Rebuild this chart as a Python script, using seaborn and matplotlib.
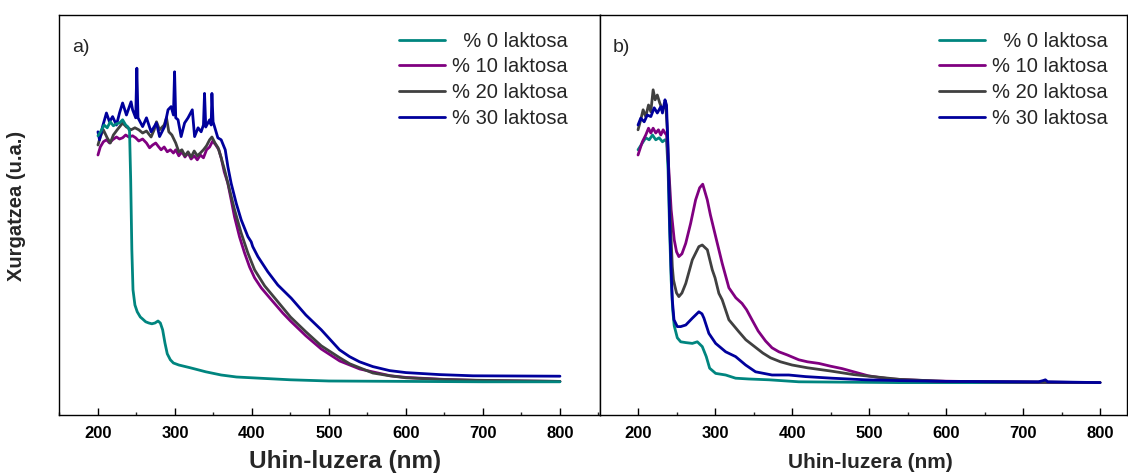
import numpy as np
import pandas as pd
import matplotlib
matplotlib.use("Agg")
import matplotlib.pyplot as plt
import seaborn as sns
from matplotlib.ticker import MultipleLocator

# ---------------- data: absorbance (arbitrary units) vs wavelength (nm) ----------------
series_labels = ["\u2007% 0 laktosa", "% 10 laktosa", "% 20 laktosa", "% 30 laktosa"]
series_colors = ["#00857f", "#800080", "#404040", "#00009c"]

# panel a)
a_wl_0 = [200, 204, 208, 212, 216, 220, 224, 228, 232, 236, 239, 241, 242.5, 244, 245.5, 248, 251,
          255, 258, 262, 266, 270, 274, 278, 281, 284, 287, 290, 294, 298, 305, 320, 340, 360, 380,
          400, 450, 500, 600, 700, 800]
a_abs_0 = [69.8, 71.0, 72.5, 71.8, 73.3, 72.3, 72.8, 73.0, 73.8, 72.5, 72.0, 71.0, 58.8, 41.3, 31.3,
           27.5, 25.8, 24.5, 24.0, 23.3, 23.0, 22.8, 23.0, 23.5, 23.0, 21.3, 18.0, 15.3, 13.8, 13.0,
           12.5, 11.8, 10.8, 10.0, 9.5, 9.3, 8.8, 8.5, 8.4, 8.3, 8.3]

a_wl_10 = [200, 203, 207, 211, 215, 219, 224, 228, 232, 236, 240, 245, 249, 253, 258, 263, 267, 271,
           275, 279, 282, 286, 290, 294, 298, 301, 305, 309, 313, 317, 321, 325, 329, 333, 337, 341,
           345, 349, 353, 357, 360, 364, 368.6, 373, 377.4, 383.9, 390.4, 396.9, 403.4, 412, 423,
           440, 450, 470, 490, 514, 540, 580, 600, 650, 700, 800]
a_abs_10 = [65.0, 67.0, 68.3, 68.8, 68.0, 68.8, 69.5, 69.0, 69.3, 70.0, 69.5, 69.8, 69.3, 68.5, 69.0,
            68.0, 66.8, 67.5, 68.0, 67.0, 66.3, 67.0, 65.8, 66.3, 65.5, 66.3, 64.8, 65.8, 64.5, 65.5,
            64.0, 64.8, 63.8, 65.0, 64.3, 66.3, 67.0, 68.5, 67.5, 66.3, 64.3, 60.8, 58.0, 53.8, 49.5,
            44.5, 40.5, 37.0, 34.3, 31.8, 29.3, 25.5, 23.5, 19.8, 16.5, 13.5, 11.5, 9.8, 9.4, 8.9,
            8.6, 8.4]

a_wl_20 = [200, 203, 207, 212, 216, 220, 225, 232, 237, 243, 248, 253, 258, 263, 269, 273, 276, 280,
           286, 289, 292, 296, 301, 305, 309, 313, 317, 321, 325, 329, 333, 337, 341, 345, 348, 352,
           356, 360, 364.4, 370.9, 377.4, 386, 394.7, 403.4, 416.4, 431.5, 450, 470, 490, 514, 527,
           540, 557, 579, 600, 644, 687, 800]
a_abs_20 = [67.5, 69.5, 71.3, 69.3, 68.0, 70.0, 71.3, 73.0, 72.0, 71.3, 71.8, 71.3, 70.5, 71.0, 69.5,
            71.3, 73.3, 71.3, 72.5, 74.3, 70.8, 70.0, 68.0, 65.8, 66.3, 64.8, 65.8, 64.5, 66.0, 64.8,
            65.5, 66.3, 67.3, 68.8, 69.5, 68.0, 66.8, 64.3, 61.3, 56.3, 51.3, 45.5, 40.5, 36.3, 32.3,
            28.8, 24.5, 20.8, 17.3, 14.3, 12.8, 11.8, 10.5, 9.8, 9.3, 8.9, 8.7, 8.4]

a_wl_30 = [200, 202, 206, 211, 215, 219, 224, 228, 232, 237, 243, 245, 249, 250.5, 252, 258, 263,
           269, 276, 280, 286.5, 291, 295, 298, 299.5, 301, 304, 308, 312.5, 317, 322.5, 325.5, 330,
           334, 337, 338.4, 340, 345, 347, 348, 349.5, 355.7, 360, 365.3, 368.7, 373, 379.6, 386,
           394.7, 399, 401, 407.7, 420.6, 433.6, 451, 470, 490, 513.7, 526.7, 539.7, 557, 578.7,
           600, 643.6, 686.9, 800]
a_abs_30 = [70.8, 68.8, 72.1, 75.5, 73.3, 74.6, 72.5, 75.5, 78.0, 75.0, 78.3, 76.3, 74.3, 86.7, 74.3,
            72.1, 74.3, 70.8, 73.0, 69.6, 72.1, 76.3, 77.1, 75.0, 85.8, 74.3, 73.8, 69.6, 73.0, 74.3,
            76.3, 69.6, 71.8, 70.8, 72.5, 80.4, 72.0, 73.8, 72.5, 80.4, 73.3, 69.3, 68.8, 66.3, 62.1,
            57.9, 52.9, 48.8, 44.6, 43.3, 42.1, 39.6, 35.8, 32.5, 29.2, 25.0, 21.3, 16.3, 14.6, 13.3,
            12.1, 11.1, 10.6, 10.1, 9.8, 9.7]

# panel b)
b_wl_0 = [200, 205.6, 210, 214.5, 218.8, 223, 227.4, 231.7, 235, 237, 239, 241, 243, 245, 247, 251,
          255.4, 262, 270.5, 277, 283.4, 288.6, 293, 300.8, 313.8, 326.7, 344, 370, 408.8, 538.5, 800]
b_abs_0 = [66.3, 68.0, 69.3, 68.8, 70.0, 68.8, 69.3, 68.3, 68.8, 68.8, 61.3, 46.3, 33.8, 26.3, 22.3,
           19.3, 18.3, 18.1, 17.9, 18.3, 17.1, 14.6, 11.7, 10.4, 10.0, 9.2, 9.0, 8.8, 8.3, 8.1, 8.1]

b_wl_10 = [200, 201.3, 205.6, 210, 213.6, 216.6, 219.6, 223, 226.5, 229.6, 232.6, 235, 237, 240, 243,
           247, 250, 253, 257, 261.9, 268.3, 274.8, 280, 284, 289.9, 294, 300.8, 309.3, 318, 327,
           335, 341, 348, 356, 365.6, 374, 382.9, 394, 408.8, 420, 434.8, 450, 465, 480, 499, 512.6,
           529, 550, 586, 650, 800]
b_abs_10 = [65.0, 65.8, 68.3, 70.0, 71.7, 70.5, 71.7, 70.5, 71.3, 70.0, 71.3, 70.5, 70.0, 61.3, 51.3,
            43.8, 40.8, 39.6, 40.3, 42.9, 47.9, 53.8, 56.8, 57.7, 53.8, 50.0, 44.6, 37.9, 31.8, 29.3,
            27.9, 26.3, 23.8, 21.0, 18.5, 16.8, 15.8, 15.0, 13.8, 13.3, 12.9, 12.2, 11.6, 10.8, 9.8,
            9.4, 9.0, 8.8, 8.5, 8.3, 8.1]

b_wl_20 = [200, 203.5, 206.6, 210, 213.6, 216.6, 219.6, 222.2, 225, 228.2, 231.7, 233.8, 236, 238,
           240, 243, 244.5, 246, 248, 250, 253, 257, 262, 270.5, 279, 283.4, 290, 296.4, 300, 305,
           309.3, 318, 331, 340, 352, 362, 372, 385, 400, 420, 450, 480, 510, 540, 600, 800]
b_abs_20 = [71.3, 73.8, 76.3, 74.6, 77.5, 75.8, 81.3, 78.8, 80.0, 78.0, 76.3, 77.1, 77.5, 71.3, 58.8,
            43.8, 37.1, 33.8, 32.1, 30.5, 29.6, 30.5, 32.9, 38.8, 42.1, 42.5, 41.3, 36.3, 34.3, 30.4,
            28.8, 23.8, 20.8, 18.8, 17.0, 15.5, 14.3, 13.3, 12.5, 11.8, 11.0, 10.1, 9.5, 8.9, 8.4, 8.1]

b_wl_30 = [200, 203.5, 208, 212, 216.6, 221, 225, 229.6, 231.7, 235, 237, 239, 241, 243, 244.5,
           246.7, 251, 255.4, 262, 270.5, 279, 283, 285.6, 292, 300.8, 313.8, 326.7, 339.7, 352.6,
           374, 395.8, 417.5, 452, 495, 538.5, 600, 720, 726, 729, 732, 800]
b_abs_30 = [72.5, 74.2, 73.3, 75.0, 74.6, 76.8, 75.5, 77.1, 75.5, 78.8, 77.5, 66.3, 48.8, 36.3, 28.8,
            23.8, 22.1, 22.1, 22.5, 24.2, 25.8, 25.3, 24.2, 20.4, 17.9, 15.8, 14.6, 12.5, 10.8, 10.0,
            10.0, 9.6, 9.2, 8.8, 8.6, 8.4, 8.3, 8.6, 8.8, 8.3, 8.1]

panel_a = [(a_wl_0, a_abs_0), (a_wl_10, a_abs_10), (a_wl_20, a_abs_20), (a_wl_30, a_abs_30)]
panel_b = [(b_wl_0, b_abs_0), (b_wl_10, b_abs_10), (b_wl_20, b_abs_20), (b_wl_30, b_abs_30)]

x_ticks = [200, 300, 400, 500, 600, 700, 800]
x_label = "Uhin-luzera (nm)"
y_label = "Xurgatzea (u.a.)"

# ---------------- style ----------------
sns.set_theme(style="white")
plt.rcParams["font.family"] = ["Liberation Sans", "DejaVu Sans"]

fig = plt.figure(figsize=(11.28, 4.76), dpi=100)
W, H = 1128, 476
ax_a = fig.add_axes([59 / W, 61 / H, 541 / W, 400 / H])
ax_b = fig.add_axes([600 / W, 61 / H, 527 / W, 400 / H])


def draw_panel(ax, curves, order, xlim, tag, legend_x, label_size, label_xy):
    handles = [None] * len(curves)
    for i in order:
        wl, ab = curves[i]
        df = pd.DataFrame({"wl": wl, "abs": ab})
        sns.lineplot(data=df, x="wl", y="abs", ax=ax, color=series_colors[i],
                     linewidth=2.0, sort=False, estimator=None, legend=False)
        handles[i] = ax.get_lines()[-1]
    ax.set_xlim(*xlim)
    ax.set_ylim(0, 100)
    ax.set_yticks([])
    ax.set_xticks(x_ticks)
    ax.xaxis.set_minor_locator(MultipleLocator(50))
    ax.tick_params(axis="x", which="major", direction="in", length=5, width=1,
                   bottom=True, labelsize=12, pad=8, colors="black")
    ax.tick_params(axis="x", which="minor", direction="in", length=2.5, width=1, bottom=True)
    for lbl in ax.get_xticklabels():
        lbl.set_fontweight("bold")
    for sp in ax.spines.values():
        sp.set_color("black")
        sp.set_linewidth(1.0)
    ax.set_ylabel("")
    ax.set_xlabel(x_label, fontsize=label_size, fontweight="bold")
    ax.xaxis.set_label_coords(*label_xy)
    ax.text(0.025, 0.919, tag, transform=ax.transAxes, fontsize=14, va="center", ha="left")
    ax.legend(handles, series_labels, loc="upper right", bbox_to_anchor=(legend_x, 0.958),
              frameon=False, fontsize=14.5, handlelength=2.3, handletextpad=0.35,
              labelspacing=0.33, borderpad=0, borderaxespad=0)


draw_panel(ax_a, panel_a, [1, 2, 3, 0], (149.4, 852), "a)", 0.941, 17.5, (0.529, -0.088))
draw_panel(ax_b, panel_b, [0, 1, 2, 3], (150.6, 835), "b)", 0.964, 15, (0.513, -0.094))

fig.text(17 / W, 1 - 206 / H, y_label, rotation=90, fontsize=14.5, fontweight="bold",
         ha="center", va="center")

fig.savefig("out.png", dpi=100)
